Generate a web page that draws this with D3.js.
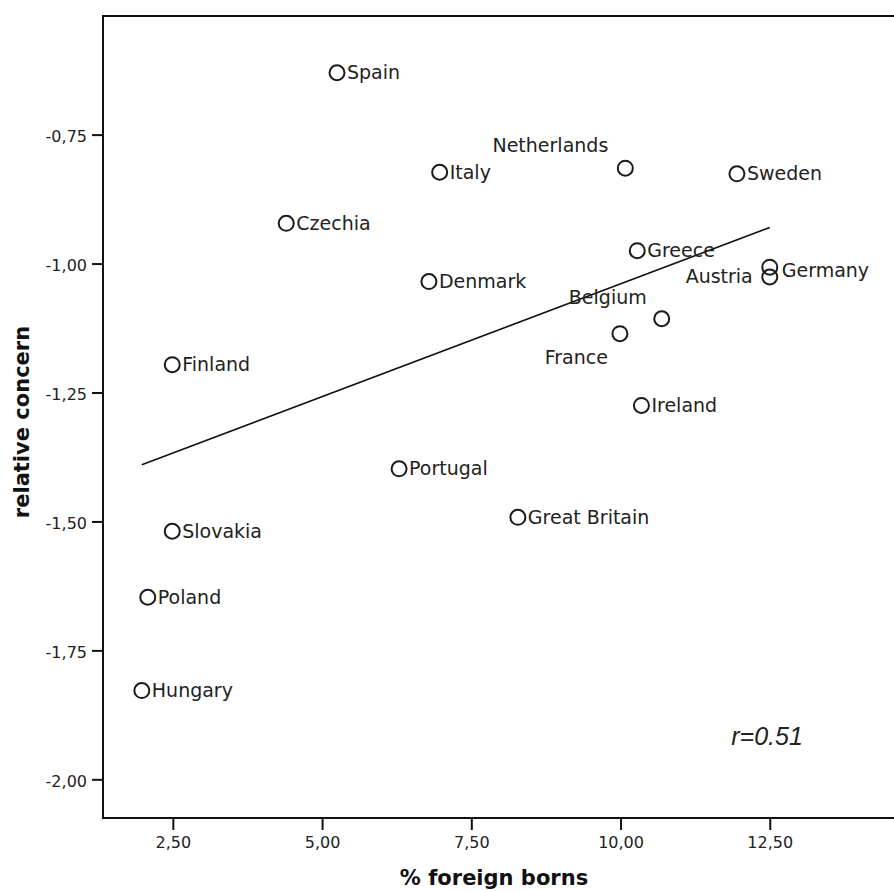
<!DOCTYPE html>
<html>
<head>
<meta charset="utf-8">
<script src="https://cdnjs.cloudflare.com/ajax/libs/d3/7.8.5/d3.min.js"></script>
<style>
  body { margin: 0; background: #fff; }
  svg { display: block; }
  .tick text { font-family: "DejaVu Sans", sans-serif; font-size: 16px; fill: #222; }
  .tick line { stroke: #111; stroke-width: 2; }
  .domain { display: none; }
</style>
</head>
<body>
<div id="chart"></div>
<script>
var width = 894;
var height = 891;

// values
var countries = ["Spain", "Italy", "Netherlands", "Sweden", "Czechia", "Greece", "Denmark",
                 "Austria", "Germany", "Belgium", "France", "Finland", "Ireland", "Portugal",
                 "Great Britain", "Slovakia", "Poland", "Hungary"];
var foreignBorn = [5.25, 6.97, 10.08, 11.95, 4.40, 10.28, 6.79,
                   12.50, 12.50, 10.69, 9.99, 2.49, 10.35, 6.29,
                   8.28, 2.49, 2.08, 1.98];
var concern = [-0.630, -0.823, -0.815, -0.826, -0.922, -0.975, -1.035,
               -1.026, -1.007, -1.107, -1.136, -1.196, -1.275, -1.398,
               -1.492, -1.519, -1.647, -1.828];

// fit line end points
var fitX = [1.98, 12.5];
var fitY = [-1.39, -0.93];

var xTicks = [2.5, 5, 7.5, 10, 12.5];
var yTicks = [-0.75, -1.0, -1.25, -1.5, -1.75, -2.0];

// where each label sits next to its circle (default is to the right)
var labelPlace = {
  "Netherlands": { anchor: "end", dx: -17, dy: -16 },
  "Belgium": { anchor: "end", dx: -15, dy: -15 },
  "France": { anchor: "end", dx: -12, dy: 30 },
  "Austria": { anchor: "end", dx: -17, dy: 6 },
  "Germany": { anchor: "start", dx: 12, dy: 10 }
};

var data = countries.map(function(c, i) {
  return { name: c, x: foreignBorn[i], y: concern[i] };
});

var xScale = d3.scaleLinear().domain([1.33, 15]).range([103, 919]);
var yScale = d3.scaleLinear().domain([-0.52, -2.075]).range([16, 818]);

var loc = d3.formatLocale({ decimal: ",", thousands: ".", grouping: [3], currency: ["", ""], minus: "-" });
var comma = loc.format(".2f");

var svg = d3.select("#chart")
  .append("svg")
  .attr("width", width)
  .attr("height", height);

// plot frame
svg.append("rect")
  .attr("x", xScale.range()[0])
  .attr("y", yScale.range()[0])
  .attr("width", xScale.range()[1] - xScale.range()[0])
  .attr("height", yScale.range()[1] - yScale.range()[0])
  .attr("fill", "none")
  .attr("stroke", "#111")
  .attr("stroke-width", 2);

var xAxis = d3.axisBottom(xScale).tickValues(xTicks).tickSize(12).tickPadding(7).tickFormat(comma);
var yAxis = d3.axisLeft(yScale).tickValues(yTicks).tickSize(11).tickPadding(5).tickFormat(comma);

svg.append("g")
  .attr("transform", "translate(0," + yScale.range()[1] + ")")
  .call(xAxis);

svg.append("g")
  .attr("transform", "translate(" + xScale.range()[0] + ",0)")
  .call(yAxis)
  .selectAll("text")
  .attr("dy", "0.45em");

// regression line
svg.append("line")
  .attr("x1", xScale(fitX[0]))
  .attr("y1", yScale(fitY[0]))
  .attr("x2", xScale(fitX[1]))
  .attr("y2", yScale(fitY[1]))
  .attr("stroke", "#111")
  .attr("stroke-width", 1.6);

var pts = svg.append("g");

pts.selectAll("circle")
  .data(data)
  .enter()
  .append("circle")
  .attr("cx", function(d) { return xScale(d.x); })
  .attr("cy", function(d) { return yScale(d.y); })
  .attr("r", 7.5)
  .attr("fill", "none")
  .attr("stroke", "#1a1a1a")
  .attr("stroke-width", 2);

pts.selectAll("text")
  .data(data)
  .enter()
  .append("text")
  .attr("x", function(d) {
    var p = labelPlace[d.name];
    return xScale(d.x) + (p ? p.dx : 10);
  })
  .attr("y", function(d) {
    var p = labelPlace[d.name];
    return yScale(d.y) + (p ? p.dy : 6.5);
  })
  .attr("text-anchor", function(d) {
    var p = labelPlace[d.name];
    return p ? p.anchor : "start";
  })
  .style("font-family", "'DejaVu Sans', sans-serif")
  .style("font-size", "19px")
  .style("fill", "#222")
  .text(function(d) { return d.name; });

svg.append("text")
  .attr("x", 767)
  .attr("y", 745)
  .attr("text-anchor", "middle")
  .style("font-family", "'Liberation Sans', Arial, sans-serif")
  .style("font-style", "italic")
  .style("font-size", "25px")
  .style("fill", "#222")
  .text("r=0.51");

// axis titles
svg.append("text")
  .attr("x", 494)
  .attr("y", 885)
  .attr("text-anchor", "middle")
  .style("font-family", "'DejaVu Sans', sans-serif")
  .style("font-weight", "bold")
  .style("font-size", "21px")
  .style("fill", "#111")
  .text("% foreign borns");

svg.append("text")
  .attr("transform", "translate(29,422) rotate(-90)")
  .attr("text-anchor", "middle")
  .style("font-family", "'DejaVu Sans', sans-serif")
  .style("font-weight", "bold")
  .style("font-size", "21px")
  .style("fill", "#111")
  .text("relative concern");
</script>
</body>
</html>
